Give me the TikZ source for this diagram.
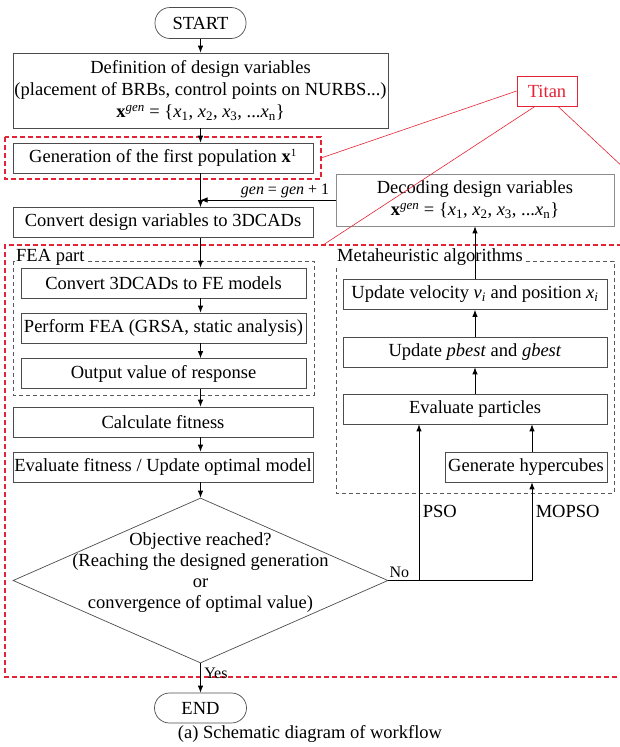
\documentclass[tikz,border=0pt]{standalone}
\usepackage{fontspec}
\setmainfont{Liberation Serif}
\usepackage{tikz}
\usetikzlibrary{arrows.meta}
\tikzset{>={Latex[length=7pt,width=5.5pt]}}
\usetikzlibrary{shapes.geometric}
\definecolor{titanred}{RGB}{228,35,52}
\tikzset{
  box/.style={draw=black!70, line width=0.7pt, minimum height=30, inner sep=0},
  term/.style={draw=black!70, line width=0.7pt, rounded corners=15, minimum width=91, minimum height=31, inner sep=0},
  flow/.style={->, line width=0.9pt},
  reddash/.style={draw=titanred, line width=1.1pt, dash pattern=on 5pt off 3pt},
  graydash/.style={draw=black!65, line width=0.7pt, dash pattern=on 4pt off 3pt},
  zoomline/.style={titanred, line width=0.6pt},
  smalltext/.style={font=\fontsize{16}{19}\selectfont},
}
\newcommand{\xgenset}{\textbf{x}\textsuperscript{\textit{gen}} = \{\textit{x}\textsubscript{1}, \textit{x}\textsubscript{2}, \textit{x}\textsubscript{3}, ...\textit{x}\textsubscript{n}\}}

\begin{document}
\begin{tikzpicture}[x=1pt,y=-1pt,font=\fontsize{18.5}{22}\selectfont]
    \useasboundingbox (0,0) rectangle (619,747);
    % frames
    \draw[reddash] (5,137) rectangle (321,179);
    \draw[reddash] (630,245) -- (5,245) -- (5,677) -- (630,677);
    \draw[graydash] (13,261) rectangle (314,395);
    \draw[graydash] (336,261) rectangle (614,493);
    \node[fill=white, inner sep=1, anchor=west] (fealabel) at (15,257) {FEA part};
    \node[fill=white, inner sep=1, anchor=west] (metalabel) at (336,257) {Metaheuristic algorithms};
    \coordinate (genframe) at (321,158);
    \coordinate (bigframe) at (323,245);
    \coordinate (offedge) at (640,183);

    % main column
    \node[term] (start) at (200.5,23) {START};
    \node[box, minimum width=375, minimum height=75, align=center] (def) at (200.5,90.5)
      {Definition of design variables\\(placement of BRBs, control points on NURBS...)\\\xgenset};
    \node[box, minimum width=300] (gen) at (163,158) {Generation of the first population \textbf{x}\textsuperscript{\fontsize{11}{11}\selectfont 1}};
    \node[box, minimum width=300] (cad) at (163,222.5) {Convert design variables to 3DCADs};
    \node[box, minimum width=285] (fem) at (163.5,283) {Convert 3DCADs to FE models};
    \node[box, minimum width=285] (fea) at (163.5,328) {Perform FEA (GRSA, static analysis)};
    \node[box, minimum width=285] (resp) at (163.5,373.5) {Output value of response};
    \node[box, minimum width=300] (calc) at (163,422) {Calculate fitness};
    \node[box, minimum width=300] (evalfit) at (163,467) {Evaluate fitness / Update optimal model};
    \node[diamond, draw=black!70, line width=0.7pt, minimum width=375, minimum height=165, inner sep=0] (obj) at (200.5,580.5) {};
    \node[align=center, font=\fontsize{18.5}{21}\selectfont] (objtext) at (200.5,572.5)
      {Objective reached?\\(Reaching the designed generation\\or\\convergence of optimal value)};
    \node[term, minimum width=92, minimum height=30] (end) at (200.5,708) {END};
    \node (caption) at (310,734) {(a) Schematic diagram of workflow};

    % right column
    \node[box, draw=black!45, minimum width=278, minimum height=52, align=center] (dec) at (475,200)
      {Decoding design variables\\\xgenset};
    \node[box, minimum width=264] (vel) at (475,294.5) {Update velocity \textit{v}\textsubscript{\textit{i}} and position \textit{x}\textsubscript{\textit{i}}};
    \node[box, minimum width=264] (best) at (475,352) {Update \textit{pbest} and \textit{gbest}};
    \node[box, minimum width=264] (part) at (475,409) {Evaluate particles};
    \node[box, minimum width=162] (hyper) at (526,467) {Generate hypercubes};
    \node[draw=titanred, text=titanred, line width=0.8pt, minimum width=60, minimum height=30] (titan) at (547,91) {Titan};

    % arrows
    \draw[flow] (start) -- (def);
    \draw[flow] (def.south) -- (def.south |- gen.north);
    \draw[flow] (gen.south -| start) -- (cad.north -| start);
    \draw[flow] (dec.west) -- node[pos=0.03, anchor=south east, inner sep=2, smalltext] {\textit{gen} = \textit{gen} + 1} (dec.west -| start);
    \draw[flow] (cad.south -| start) -- (fem.north -| start);
    \draw[flow] (fem.south -| start) -- (fea.north -| start);
    \draw[flow] (fea.south -| start) -- (resp.north -| start);
    \draw[flow] (resp.south -| start) -- (calc.north -| start);
    \draw[flow] (calc.south -| start) -- (evalfit.north -| start);
    \draw[flow] (evalfit.south -| start) -- (obj.north);
    \draw[flow] (obj.south) -- node[pos=0.33, right, smalltext] {Yes} (end.north);

    \coordinate (psoturn) at (419,580.5);
    \coordinate (mopsoturn) at (532,580.5);
    \node[anchor=south west, inner sep=1, smalltext] (no) at ([yshift=2]obj.east) {No};
    \draw[flow] (obj.east) -- (mopsoturn) -- node[pos=0.7, right] {MOPSO} (mopsoturn |- hyper.south);
    \draw[flow] (psoturn) -- node[pos=0.44, right] {PSO} (psoturn |- part.south);
    \draw[flow] (hyper.north -| mopsoturn) -- (part.south -| mopsoturn);
    \draw[flow] (part.north) -- (best.south);
    \draw[flow] (best.north) -- (vel.south);
    \draw[flow] (vel.north) -- (dec.south);

    % Titan
    \draw[zoomline] (titan.west) -- (genframe);
    \draw[zoomline] ([xshift=-12]titan.south) -- (bigframe);
    \draw[zoomline] ([xshift=11]titan.south) -- (offedge);
\end{tikzpicture}
\end{document}
